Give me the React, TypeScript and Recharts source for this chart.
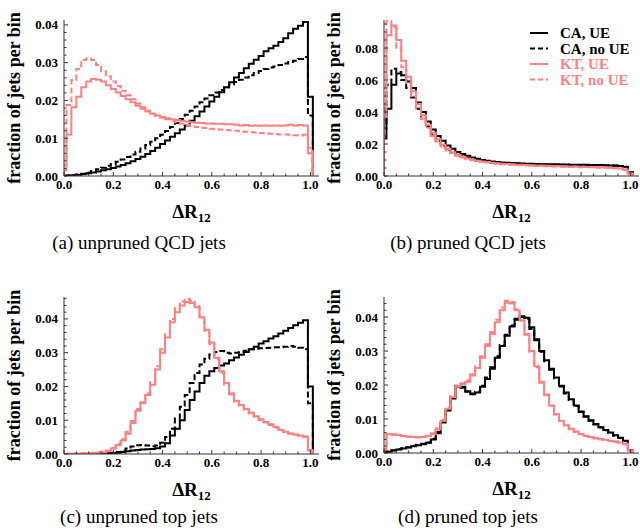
import React from "react";
import { LineChart, Line, XAxis, YAxis, Legend } from "recharts";

// histogram bins are 0.02 wide, centred on 0.00, 0.02, ..., 1.00
const BIN_WIDTH = 0.02;
const X_MAX = 1.035;

const X_TICKS = [0, 0.05, 0.1, 0.15, 0.2, 0.25, 0.3, 0.35, 0.4, 0.45, 0.5, 0.55, 0.6, 0.65, 0.7, 0.75, 0.8, 0.85, 0.9, 0.95, 1.0];
const X_LABELS = [0, 0.2, 0.4, 0.6, 0.8, 1.0];

const Y_TICKS_FINE = [0, 0.002, 0.004, 0.006, 0.008, 0.01, 0.012, 0.014, 0.016, 0.018, 0.02, 0.022, 0.024, 0.026, 0.028, 0.03, 0.032, 0.034, 0.036, 0.038, 0.04, 0.042, 0.044, 0.046];
const Y_LABELS_FINE = [0, 0.01, 0.02, 0.03, 0.04];
const Y_TICKS_COARSE = [0, 0.005, 0.01, 0.015, 0.02, 0.025, 0.03, 0.035, 0.04, 0.045, 0.05, 0.055, 0.06, 0.065, 0.07, 0.075, 0.08, 0.085, 0.09, 0.095];
const Y_LABELS_COARSE = [0, 0.02, 0.04, 0.06, 0.08];

const SERIES = [
  { key: "caUe", name: "CA, UE", color: "#000000", dash: undefined },
  { key: "caNoUe", name: "CA, no UE", color: "#000000", dash: "6 3" },
  { key: "ktUe", name: "KT, UE", color: "#ff8080", dash: undefined },
  { key: "ktNoUe", name: "KT, no UE", color: "#ff8080", dash: "6 3" },
];

// (a) unpruned QCD jets
const CA_UE_A = [0.0000, 0.0001, 0.0002, 0.0003, 0.0005, 0.0007, 0.0009, 0.0012, 0.0015, 0.0018,
  0.0021, 0.0025, 0.0029, 0.0034, 0.0039, 0.0045, 0.0051, 0.0058, 0.0066, 0.0075,
  0.0085, 0.0094, 0.0104, 0.0113, 0.0123, 0.0134, 0.0146, 0.0158, 0.0171, 0.0184,
  0.0197, 0.0210, 0.0222, 0.0235, 0.0248, 0.0261, 0.0273, 0.0285, 0.0297, 0.0308,
  0.0318, 0.0330, 0.0338, 0.0345, 0.0355, 0.0365, 0.0378, 0.0390, 0.0398, 0.0408,
  0.0210];
const CA_NOUE_A = [0.0000, 0.0001, 0.0002, 0.0004, 0.0006, 0.0009, 0.0013, 0.0018, 0.0022, 0.0027,
  0.0032, 0.0038, 0.0044, 0.0050, 0.0057, 0.0064, 0.0073, 0.0082, 0.0091, 0.0100,
  0.0109, 0.0119, 0.0130, 0.0140, 0.0151, 0.0162, 0.0173, 0.0184, 0.0195, 0.0205,
  0.0214, 0.0221, 0.0228, 0.0235, 0.0242, 0.0249, 0.0255, 0.0261, 0.0267, 0.0273,
  0.0278, 0.0283, 0.0287, 0.0290, 0.0294, 0.0298, 0.0302, 0.0305, 0.0310, 0.0315,
  0.0160];
const KT_UE_A = [0.0015, 0.0110, 0.0182, 0.0210, 0.0235, 0.0250, 0.0257, 0.0255, 0.0250, 0.0240,
  0.0230, 0.0221, 0.0212, 0.0203, 0.0195, 0.0186, 0.0178, 0.0171, 0.0165, 0.0160,
  0.0156, 0.0153, 0.0150, 0.0148, 0.0146, 0.0144, 0.0142, 0.0141, 0.0140, 0.0139,
  0.0139, 0.0138, 0.0138, 0.0137, 0.0137, 0.0136, 0.0134, 0.0135, 0.0133, 0.0134,
  0.0133, 0.0134, 0.0133, 0.0134, 0.0133, 0.0134, 0.0136, 0.0134, 0.0135, 0.0134,
  0.0060];
const KT_NOUE_A = [0.0030, 0.0188, 0.0254, 0.0283, 0.0307, 0.0311, 0.0307, 0.0294, 0.0277, 0.0264,
  0.0250, 0.0238, 0.0226, 0.0214, 0.0203, 0.0192, 0.0182, 0.0173, 0.0165, 0.0159,
  0.0154, 0.0150, 0.0146, 0.0142, 0.0138, 0.0135, 0.0132, 0.0130, 0.0128, 0.0127,
  0.0125, 0.0124, 0.0123, 0.0122, 0.0121, 0.0120, 0.0118, 0.0117, 0.0116, 0.0115,
  0.0114, 0.0113, 0.0112, 0.0111, 0.0110, 0.0110, 0.0109, 0.0108, 0.0107, 0.0109,
  0.0075];

// (b) pruned QCD jets
const CA_UE_B = [0.0235, 0.042, 0.057, 0.064, 0.063, 0.059, 0.055, 0.046, 0.040, 0.034,
  0.029, 0.025, 0.022, 0.019, 0.017, 0.015, 0.0138, 0.0126, 0.0116, 0.0108,
  0.0100, 0.0095, 0.0091, 0.0088, 0.0085, 0.0083, 0.0081, 0.0079, 0.0078, 0.0077,
  0.0076, 0.0075, 0.0074, 0.0074, 0.0073, 0.0073, 0.0072, 0.0072, 0.0071, 0.0071,
  0.0070, 0.0070, 0.0069, 0.0069, 0.0068, 0.0067, 0.0066, 0.0065, 0.0063, 0.0058,
  0.0024];
const CA_NOUE_B = [0.030, 0.057, 0.067, 0.065, 0.060, 0.055, 0.049, 0.042, 0.036, 0.031,
  0.026, 0.022, 0.019, 0.0165, 0.0148, 0.0133, 0.0122, 0.0112, 0.0104, 0.0097,
  0.0092, 0.0088, 0.0085, 0.0083, 0.0081, 0.0080, 0.0078, 0.0077, 0.0076, 0.0075,
  0.0074, 0.0073, 0.0072, 0.0072, 0.0071, 0.0071, 0.0070, 0.0070, 0.0069, 0.0069,
  0.0068, 0.0068, 0.0067, 0.0067, 0.0066, 0.0066, 0.0065, 0.0064, 0.0062, 0.0057,
  0.0022];
const KT_UE_B = [0.037, 0.088, 0.094, 0.085, 0.072, 0.062, 0.053, 0.045, 0.038, 0.032,
  0.027, 0.023, 0.0195, 0.0168, 0.0148, 0.0132, 0.0120, 0.0110, 0.0102, 0.0096,
  0.0091, 0.0087, 0.0083, 0.0080, 0.0077, 0.0075, 0.0073, 0.0071, 0.0070, 0.0068,
  0.0067, 0.0066, 0.0065, 0.0064, 0.0063, 0.0062, 0.0061, 0.0060, 0.0060, 0.0059,
  0.0058, 0.0057, 0.0056, 0.0055, 0.0054, 0.0053, 0.0052, 0.0050, 0.0047, 0.0040,
  0.0015];
const KT_NOUE_B = [0.045, 0.097, 0.093, 0.080, 0.068, 0.058, 0.050, 0.042, 0.036, 0.030,
  0.025, 0.0215, 0.0185, 0.0160, 0.0142, 0.0127, 0.0116, 0.0107, 0.0099, 0.0093,
  0.0088, 0.0084, 0.0080, 0.0077, 0.0074, 0.0072, 0.0070, 0.0068, 0.0067, 0.0065,
  0.0064, 0.0063, 0.0062, 0.0061, 0.0060, 0.0059, 0.0058, 0.0058, 0.0057, 0.0056,
  0.0055, 0.0055, 0.0054, 0.0053, 0.0052, 0.0051, 0.0050, 0.0048, 0.0046, 0.0039,
  0.0015];

// (c) unpruned top jets
const CA_UE_C = [0, 0, 0, 0, 0, 0, 0.0001, 0.0001, 0.0001, 0.0002,
  0.0002, 0.0004, 0.0006, 0.0008, 0.0010, 0.0012, 0.0013, 0.0014, 0.0015, 0.0017,
  0.0022, 0.0032, 0.0055, 0.0075, 0.0100, 0.0130, 0.0160, 0.0185, 0.0210, 0.0232,
  0.0245, 0.0255, 0.0262, 0.0268, 0.0278, 0.0286, 0.0294, 0.0302, 0.0310, 0.0318,
  0.0327, 0.0334, 0.0342, 0.0349, 0.0357, 0.0365, 0.0373, 0.0381, 0.0389, 0.0396,
  0.0200];
const CA_NOUE_C = [0, 0, 0, 0, 0, 0, 0.0001, 0.0001, 0.0002, 0.0003,
  0.0004, 0.0006, 0.0010, 0.0016, 0.0022, 0.0026, 0.0027, 0.0025, 0.0023, 0.0025,
  0.0033, 0.0050, 0.0075, 0.0105, 0.0140, 0.0175, 0.0210, 0.0240, 0.0265, 0.0282,
  0.0295, 0.0302, 0.0305, 0.0300, 0.0298, 0.0300, 0.0302, 0.0306, 0.0310, 0.0312,
  0.0313, 0.0314, 0.0315, 0.0316, 0.0316, 0.0318, 0.0320, 0.0318, 0.0315, 0.0310,
  0.0150];
const KT_UE_C = [0, 0.0001, 0.0001, 0.0001, 0.0002, 0.0002, 0.0003, 0.0004, 0.0005, 0.0008,
  0.0016, 0.0026, 0.0040, 0.0060, 0.0092, 0.0128, 0.0150, 0.0175, 0.0205, 0.0250,
  0.0300, 0.0345, 0.0390, 0.0420, 0.0440, 0.0450, 0.0447, 0.0435, 0.0405, 0.0368,
  0.0330, 0.0285, 0.0245, 0.0210, 0.0180, 0.0158, 0.0145, 0.0133, 0.0122, 0.0112,
  0.0103, 0.0095, 0.0088, 0.0080, 0.0072, 0.0066, 0.0061, 0.0058, 0.0055, 0.0052,
  0.0012];
const KT_NOUE_C = [0, 0.0001, 0.0001, 0.0002, 0.0002, 0.0003, 0.0004, 0.0005, 0.0007, 0.0010,
  0.0018, 0.0029, 0.0044, 0.0066, 0.0098, 0.0133, 0.0153, 0.0180, 0.0213, 0.0260,
  0.0310, 0.0355, 0.0400, 0.0432, 0.0452, 0.0460, 0.0455, 0.0438, 0.0405, 0.0365,
  0.0325, 0.0280, 0.0240, 0.0205, 0.0176, 0.0155, 0.0142, 0.0131, 0.0120, 0.0110,
  0.0101, 0.0093, 0.0086, 0.0078, 0.0071, 0.0065, 0.0060, 0.0057, 0.0054, 0.0051,
  0.0010];

// (d) pruned top jets
const CA_UE_D = [0.0002, 0.0004, 0.0007, 0.0010, 0.0013, 0.0016, 0.0020, 0.0023, 0.0026, 0.0030,
  0.0040, 0.0058, 0.0090, 0.0125, 0.0160, 0.0195, 0.0192, 0.0180, 0.0173, 0.0178,
  0.0195, 0.0218, 0.0248, 0.0280, 0.0315, 0.0345, 0.0372, 0.0392, 0.0402, 0.0398,
  0.0370, 0.0335, 0.0300, 0.0273, 0.0248, 0.0222, 0.0198, 0.0178, 0.0158, 0.0140,
  0.0122, 0.0108, 0.0096, 0.0085, 0.0076, 0.0068, 0.0060, 0.0052, 0.0045, 0.0036,
  0.0008];
const CA_NOUE_D = [0.0002, 0.0005, 0.0008, 0.0011, 0.0014, 0.0017, 0.0021, 0.0024, 0.0027, 0.0031,
  0.0042, 0.0062, 0.0095, 0.0130, 0.0165, 0.0198, 0.0195, 0.0182, 0.0175, 0.0180,
  0.0198, 0.0222, 0.0252, 0.0285, 0.0318, 0.0348, 0.0375, 0.0395, 0.0400, 0.0394,
  0.0365, 0.0332, 0.0298, 0.0270, 0.0245, 0.0220, 0.0196, 0.0175, 0.0156, 0.0138,
  0.0121, 0.0107, 0.0095, 0.0084, 0.0075, 0.0067, 0.0059, 0.0051, 0.0044, 0.0035,
  0.0008];
const KT_UE_D = [0.0010, 0.0055, 0.0054, 0.0052, 0.0050, 0.0048, 0.0047, 0.0046, 0.0047, 0.0050,
  0.0056, 0.0070, 0.0095, 0.0130, 0.0165, 0.0195, 0.0203, 0.0210, 0.0228, 0.0250,
  0.0280, 0.0315, 0.0350, 0.0385, 0.0420, 0.0442, 0.0440, 0.0420, 0.0390, 0.0350,
  0.0300, 0.0255, 0.0210, 0.0172, 0.0140, 0.0115, 0.0095, 0.0082, 0.0071, 0.0063,
  0.0056, 0.0051, 0.0047, 0.0044, 0.0041, 0.0039, 0.0036, 0.0034, 0.0031, 0.0027,
  0.0008];
const KT_NOUE_D = [0.0012, 0.0057, 0.0055, 0.0053, 0.0050, 0.0048, 0.0047, 0.0046, 0.0048, 0.0051,
  0.0058, 0.0073, 0.0098, 0.0133, 0.0168, 0.0197, 0.0205, 0.0213, 0.0232, 0.0255,
  0.0285, 0.0320, 0.0356, 0.0392, 0.0428, 0.0448, 0.0444, 0.0422, 0.0390, 0.0348,
  0.0298, 0.0252, 0.0207, 0.0170, 0.0138, 0.0113, 0.0094, 0.0081, 0.0070, 0.0062,
  0.0055, 0.0050, 0.0046, 0.0043, 0.0040, 0.0038, 0.0035, 0.0033, 0.0030, 0.0026,
  0.0008];

const FONT = "'Liberation Serif', 'Times New Roman', serif";
const AXIS = "#333";
const TICK_GAP_X = 4;
const TICK_GAP_Y = 6;

type Row = Record<string, number>;

// step rows: a zero at x=0, one row per bin start, and a closing zero
function buildRows(values: number[][]): Row[] {
  const rows: Row[] = [];
  const first: Row = { x: 0 };
  SERIES.forEach((s) => (first[s.key] = 0));
  rows.push(first);
  values[0].forEach((_, k) => {
    const row: Row = { x: Math.max(0, k * BIN_WIDTH - BIN_WIDTH / 2) };
    SERIES.forEach((s, i) => (row[s.key] = values[i][k]));
    rows.push(row);
  });
  const last: Row = { x: (values[0].length - 1) * BIN_WIDTH + BIN_WIDTH / 2 };
  SERIES.forEach((s) => (last[s.key] = 0));
  rows.push(last);
  return rows;
}

const isMajor = (v: number, list: number[]) => list.some((m) => Math.abs(m - v) < 1e-9);

const renderXTick = (props: any) => {
  const { x, y, payload } = props;
  const axisY = y - TICK_GAP_X;
  const major = isMajor(payload.value, X_LABELS);
  return (
    <g>
      <line x1={x} x2={x} y1={axisY} y2={axisY - (major ? 4 : 2.5)} stroke={AXIS} strokeWidth={1} />
      {major && (
        <text x={x} y={axisY + 12.5} textAnchor="middle" fontFamily={FONT} fontWeight="bold" fontSize={13} fill="#000">
          {payload.value.toFixed(1)}
        </text>
      )}
    </g>
  );
};

const makeYTick = (labels: number[]) => (props: any) => {
  const { x, y, payload } = props;
  const axisX = x + TICK_GAP_Y;
  const major = isMajor(payload.value, labels);
  return (
    <g>
      <line x1={axisX} x2={axisX + (major ? 4 : 2.5)} y1={y} y2={y} stroke={AXIS} strokeWidth={1} />
      {major && (
        <text x={axisX - 6} y={y + 4.5} textAnchor="end" fontFamily={FONT} fontWeight="bold" fontSize={13} fill="#000">
          {payload.value.toFixed(2)}
        </text>
      )}
    </g>
  );
};

const renderXLabel = (props: any) => {
  const { viewBox } = props;
  const cx = viewBox.x + viewBox.width / 2;
  const base = viewBox.y + 42;
  return (
    <text x={cx} y={base} textAnchor="middle" fontFamily={FONT} fontWeight="bold" fontSize={19} fill="#000">
      ΔR<tspan fontSize={13} dy={4}>12</tspan>
    </text>
  );
};

const renderYLabel = (props: any) => {
  const { viewBox } = props;
  const cy = viewBox.y + viewBox.height / 2;
  const bx = 19.5;
  return (
    <text x={bx} y={cy} transform={`rotate(-90 ${bx} ${cy})`} textAnchor="middle" fontFamily={FONT} fontWeight="bold" fontSize={18} fill="#000">
      fraction of jets per bin
    </text>
  );
};

const LEGEND_ROW = 15.5;

const renderLegend = () => (
  <svg width={130} height={66}>
    {SERIES.map((s, i) => (
      <g key={s.key}>
        <line x1={0} x2={18} y1={8 + i * LEGEND_ROW} y2={8 + i * LEGEND_ROW} stroke={s.color} strokeWidth={2} strokeDasharray={s.dash ? "5 3" : undefined} />
        <text x={30} y={13 + i * LEGEND_ROW} fontFamily={FONT} fontWeight="bold" fontSize={15} fill={s.color}>
          {s.name}
        </text>
      </g>
    ))}
  </svg>
);

type PanelProps = {
  left: number;
  top: number;
  marginTop: number;
  yMax: number;
  yTicks: number[];
  yLabels: number[];
  values: number[][];
  legend?: boolean;
};

function Panel({ left, top, marginTop, yMax, yTicks, yLabels, values, legend }: PanelProps) {
  const rows = buildRows(values);
  return (
    <div style={{ position: "absolute", left, top }}>
      <LineChart width={320} height={225} data={rows} margin={{ top: marginTop, right: 1, bottom: 4, left: 0 }}>
        <XAxis
          type="number"
          dataKey="x"
          domain={[0, X_MAX]}
          ticks={X_TICKS}
          interval={0}
          tickSize={0}
          tickMargin={TICK_GAP_X}
          tick={renderXTick}
          axisLine={{ stroke: AXIS, strokeWidth: 1 }}
          height={45}
          allowDataOverflow
          label={renderXLabel}
        />
        <YAxis
          type="number"
          domain={[0, yMax]}
          ticks={yTicks.filter((t) => t <= yMax + 1e-9)}
          interval={0}
          tickSize={0}
          tickMargin={TICK_GAP_Y}
          tick={makeYTick(yLabels)}
          axisLine={{ stroke: AXIS, strokeWidth: 1 }}
          width={64}
          allowDataOverflow
          label={renderYLabel}
        />
        {legend && (
          <Legend
            layout="vertical"
            align="center"
            verticalAlign="middle"
            content={renderLegend}
            wrapperStyle={{ position: "absolute", top: 25, left: 210, width: 130, height: 66 }}
          />
        )}
        {SERIES.map((s) => (
          <Line
            key={s.key}
            type="stepAfter"
            dataKey={s.key}
            name={s.name}
            stroke={s.color}
            strokeWidth={2}
            strokeDasharray={s.dash}
            dot={false}
            activeDot={false}
            isAnimationActive={false}
          />
        ))}
      </LineChart>
    </div>
  );
}

const captionStyle = (left: number, top: number): React.CSSProperties => ({
  position: "absolute",
  left,
  top,
  width: 280,
  textAlign: "center",
  fontFamily: FONT,
  fontSize: 19,
  lineHeight: "24px",
  color: "#000",
  whiteSpace: "nowrap",
});

export default function App() {
  return (
    <div style={{ position: "absolute", left: 0, top: 0, width: 640, height: 531, background: "#fff" }}>
      <Panel left={0} top={0} marginTop={20} yMax={0.0413} yTicks={Y_TICKS_FINE} yLabels={Y_LABELS_FINE}
        values={[CA_UE_A, CA_NOUE_A, KT_UE_A, KT_NOUE_A]} />
      <Panel left={320} top={0} marginTop={20} yMax={0.0975} yTicks={Y_TICKS_COARSE} yLabels={Y_LABELS_COARSE}
        values={[CA_UE_B, CA_NOUE_B, KT_UE_B, KT_NOUE_B]} legend />
      <Panel left={0} top={278} marginTop={19} yMax={0.0465} yTicks={Y_TICKS_FINE} yLabels={Y_LABELS_FINE}
        values={[CA_UE_C, CA_NOUE_C, KT_UE_C, KT_NOUE_C]} />
      <Panel left={320} top={277} marginTop={20} yMax={0.0459} yTicks={Y_TICKS_FINE} yLabels={Y_LABELS_FINE}
        values={[CA_UE_D, CA_NOUE_D, KT_UE_D, KT_NOUE_D]} />
      <div style={captionStyle(-1, 231)}>(a) unpruned QCD jets</div>
      <div style={captionStyle(328, 231)}>(b) pruned QCD jets</div>
      <div style={captionStyle(-1, 505)}>(c) unpruned top jets</div>
      <div style={captionStyle(328, 505)}>(d) pruned top jets</div>
    </div>
  );
}
